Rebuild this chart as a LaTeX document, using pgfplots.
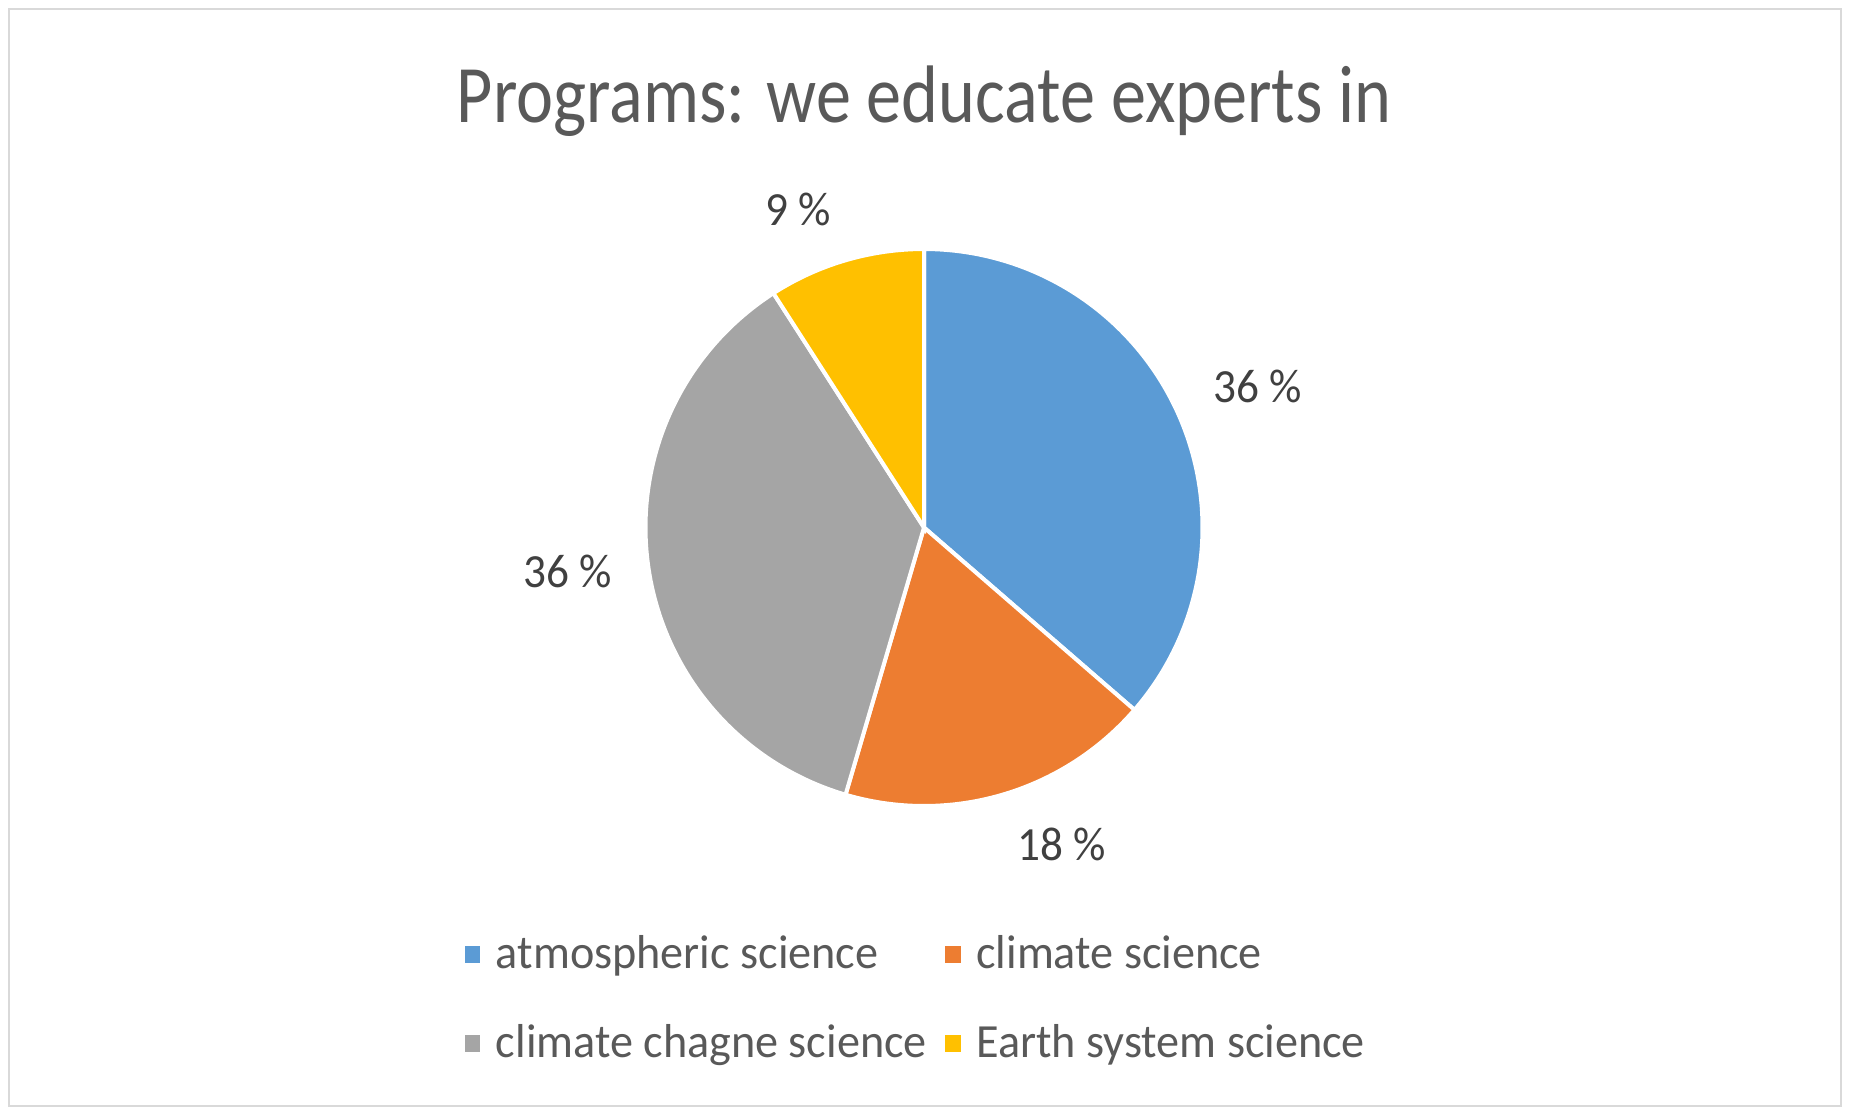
\documentclass[border=0pt]{standalone}
\usepackage{pgfplots}
\pgfplotsset{compat=1.18}
\usepackage{pgfplotstable}
\usepackage{fontspec}
\setmainfont{Carlito}
\newfontfamily\titlefont[FakeStretch=0.86]{Carlito}
\newfontfamily\labelfont[FakeStretch=0.95]{Carlito}
\newfontfamily\legendfont[FakeStretch=0.97]{Carlito}
\definecolor{cblue}{HTML}{5B9BD5}
\definecolor{corange}{HTML}{ED7D31}
\definecolor{cgray}{HTML}{A5A5A5}
\definecolor{cyellow}{HTML}{FFC000}
\definecolor{titlegray}{HTML}{595959}
\definecolor{labelgray}{HTML}{404040}
\definecolor{bordergray}{HTML}{D9D9D9}
\tikzset{lbl/.style={font=\labelfont\fontsize{11.9bp}{14bp}\selectfont, text=labelgray}}

\pgfplotstableread{
name count
atmospheric 4
climate 2
change 4
earth 1
}\pies

\begin{document}
\begin{tikzpicture}
\pgfplotstablegetelem{0}{count}\of\pies \edef\va{\pgfplotsretval}
\pgfplotstablegetelem{1}{count}\of\pies \edef\vb{\pgfplotsretval}
\pgfplotstablegetelem{2}{count}\of\pies \edef\vc{\pgfplotsretval}
\pgfplotstablegetelem{3}{count}\of\pies \edef\vd{\pgfplotsretval}
\pgfmathsetmacro\tot{\va+\vb+\vc+\vd}
\pgfmathsetmacro\aA{90}
\pgfmathsetmacro\aB{\aA-360*\va/\tot}
\pgfmathsetmacro\aC{\aB-360*\vb/\tot}
\pgfmathsetmacro\aD{\aC-360*\vc/\tot}
\pgfmathsetmacro\aE{\aD-360*\vd/\tot}
\path (0,0) rectangle (462.5bp,-278.75bp);
\draw[color=bordergray, line width=0.7bp] (2.25bp,-2.25bp) rectangle (460.25bp,-276.5bp);
\node[anchor=base, text=titlegray, inner sep=0pt, font=\titlefont\fontsize{20.4bp}{24bp}\selectfont] at (231bp,-30.5bp) {Programs: we educate experts in};
\coordinate (pc) at (231bp,-131.875bp);
\begin{axis}[at={(pc)}, anchor=center, scale only axis,
  width=208.875bp, height=208.875bp,
  xmin=-1.5, xmax=1.5, ymin=-1.5, ymax=1.5,
  hide axis, clip=false,
  legend columns=2,
  legend cell align=left,
  legend style={draw=none, fill=none, inner sep=0pt,
    at={(axis description cs:-0.0506,0.022)}, anchor=north west,
    font=\legendfont\fontsize{11.9bp}{14bp}\selectfont, text=titlegray,
    row sep=8.4bp,
    /tikz/every even column/.append style={column sep=2.6bp}},
  legend image code/.code={\fill[#1,draw=none] (0bp,-2bp) rectangle (3.9bp,2.2bp); \path[draw=none,fill=none] (0bp,0bp) -- (5.8bp,0bp);},
]
\addplot[fill=cblue, draw=white, line width=1bp, domain=\aB:\aA, samples=120, variable=\t] ({cos(\t)},{sin(\t)}) -- (0,0) -- cycle;
\addlegendentry{atmospheric science}
\addplot[fill=corange, draw=white, line width=1bp, domain=\aC:\aB, samples=80, variable=\t] ({cos(\t)},{sin(\t)}) -- (0,0) -- cycle;
\addlegendentry{climate science}
\addplot[fill=cgray, draw=white, line width=1bp, domain=\aD:\aC, samples=120, variable=\t] ({cos(\t)},{sin(\t)}) -- (0,0) -- cycle;
\addlegendentry{climate chagne science}
\addplot[fill=cyellow, draw=white, line width=1bp, domain=\aE:\aD, samples=50, variable=\t] ({cos(\t)},{sin(\t)}) -- (0,0) -- cycle;
\addlegendentry{Earth system science}
\node[lbl] at ({1.30*cos(23)},{1.30*sin(23)}) {36 \%};
\node[lbl] at ({1.29*cos(187)},{1.29*sin(187)}) {36 \%};
\node[lbl] at ({1.24*cos(-66.5)},{1.24*sin(-66.5)}) {18 \%};
\node[lbl] at ({1.23*cos(111.6)},{1.23*sin(111.6)}) {9 \%};
\end{axis}
\end{tikzpicture}
\end{document}
